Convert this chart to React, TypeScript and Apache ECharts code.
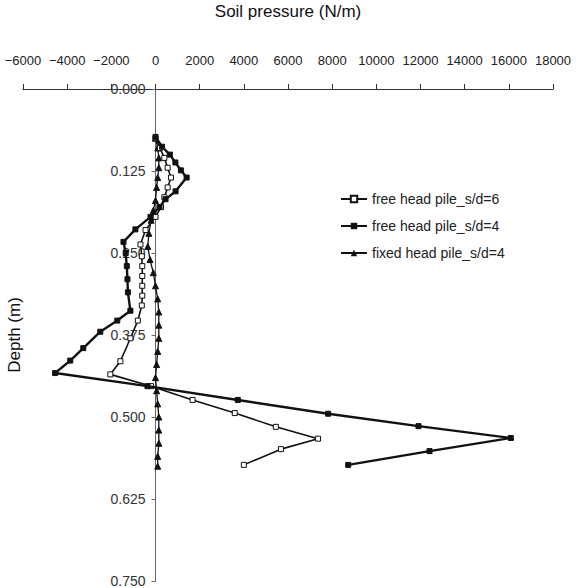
import React, { useEffect, useRef } from "react";
import * as echarts from "echarts";

const xTicks = { min: -6000, max: 18000, interval: 2000 };
const yTicks = { min: 0, max: 0.75, interval: 0.125 };

const freeS6Depth = [0.075, 0.09, 0.105, 0.12, 0.135, 0.15, 0.165, 0.18, 0.195, 0.215, 0.237, 0.255, 0.27, 0.285, 0.3, 0.315, 0.33, 0.353, 0.38, 0.415, 0.435, 0.453, 0.474, 0.494, 0.515, 0.533, 0.549, 0.573];
const freeS6Value = [0, 200, 400, 550, 700, 550, 400, 250, 0, -450, -680, -620, -600, -600, -600, -600, -620, -800, -1136, -1590, -2045, -200, 1680, 3590, 5450, 7360, 5680, 4000];

const freeS4Depth = [0.073, 0.088, 0.1, 0.112, 0.124, 0.135, 0.156, 0.168, 0.18, 0.195, 0.214, 0.233, 0.25, 0.27, 0.29, 0.31, 0.338, 0.353, 0.37, 0.395, 0.414, 0.433, 0.453, 0.474, 0.495, 0.514, 0.532, 0.552, 0.573];
const freeS4Value = [0, 300, 650, 900, 1150, 1409, 909, 455, 180, -227, -909, -1450, -1350, -1300, -1270, -1250, -1136, -1730, -2500, -3270, -3860, -4545, -364, 3727, 7818, 11909, 16090, 12409, 8727];

const fixedS4Depth = [0.075, 0.09, 0.105, 0.12, 0.135, 0.15, 0.17, 0.185, 0.2, 0.22, 0.24, 0.26, 0.28, 0.3, 0.32, 0.34, 0.36, 0.38, 0.4, 0.42, 0.44, 0.46, 0.48, 0.5, 0.52, 0.54, 0.56, 0.575];
const fixedS4Value = [0, 100, 150, 150, 100, 50, 0, -100, -200, -300, -350, -250, -100, 0, 100, 150, 150, 150, 100, 50, 0, 50, 100, 150, 150, 150, 100, 100];

const seriesNames = ["free head pile_s/d=6", "free head pile_s/d=4", "fixed head pile_s/d=4"];

const pairs = (v: number[], d: number[]) => v.map((x, i) => [x, d[i]]);

export default function App() {
  const ref = useRef<HTMLDivElement>(null);
  useEffect(() => {
    if (!ref.current) return;
    const chart = echarts.init(ref.current, null, { renderer: "svg" });
    const font = "Liberation Sans, Arial, sans-serif";
    const gridLeft = 23;
    const gridRight = 33;
    const plotW = 586 - gridLeft - gridRight;
    const zeroOffset = -((0 - xTicks.min) / (xTicks.max - xTicks.min)) * plotW;
    chart.setOption({
      animation: false,
      backgroundColor: "#ffffff",
      textStyle: { fontFamily: font },
      grid: { left: gridLeft, right: gridRight, top: 89, bottom: 7, containLabel: false, outerBoundsMode: "none" },
      legend: {
        orient: "vertical",
        left: 335,
        top: 187,
        itemWidth: 26,
        itemHeight: 8,
        itemGap: 13,
        data: seriesNames,
        textStyle: { fontSize: 14, color: "#222", fontFamily: font },
      },
      xAxis: {
        type: "value",
        position: "top",
        min: xTicks.min,
        max: xTicks.max,
        interval: xTicks.interval,
        name: "Soil pressure (N/m)",
        nameLocation: "middle",
        nameGap: 69,
        nameTextStyle: { fontSize: 17, color: "#111", fontFamily: font },
        axisLine: { onZero: false, lineStyle: { color: "#333", width: 1.2 } },
        axisTick: { inside: false, length: 5, lineStyle: { color: "#333" } },
        axisLabel: {
          margin: 22,
          fontSize: 13,
          color: "#222",
          fontFamily: font,
          showMinLabel: true,
          showMaxLabel: true,
          hideOverlap: false,
          formatter: (v: number) => (v < 0 ? "\u2212" + Math.abs(v) : String(v)),
        },
        splitLine: { show: false },
      },
      yAxis: {
        type: "value",
        inverse: true,
        position: "left",
        offset: zeroOffset,
        min: yTicks.min,
        max: yTicks.max,
        interval: yTicks.interval,
        name: "Depth (m)",
        nameLocation: "middle",
        nameGap: 133,
        nameRotate: 90,
        nameTextStyle: { fontSize: 17, color: "#111", fontFamily: font },
        axisLine: { onZero: false, lineStyle: { color: "#666", width: 1 } },
        axisTick: { inside: false, length: 4, lineStyle: { color: "#666" } },
        axisLabel: {
          margin: 10,
          fontSize: 14,
          lineHeight: 12,
          color: "#333",
          fontFamily: font,
          formatter: (v: number) => v.toFixed(3),
        },
        splitLine: { show: false },
      },
      series: [
        {
          name: seriesNames[0],
          type: "line",
          data: pairs(freeS6Value, freeS6Depth),
          symbol: "rect",
          symbolSize: 5,
          lineStyle: { color: "#111", width: 1.6 },
          itemStyle: { color: "#fff", borderColor: "#111", borderWidth: 1 },
          z: 3,
        },
        {
          name: seriesNames[1],
          type: "line",
          data: pairs(freeS4Value, freeS4Depth),
          symbol: "rect",
          symbolSize: 5,
          lineStyle: { color: "#111", width: 2.4 },
          itemStyle: { color: "#111", borderColor: "#111" },
          z: 4,
        },
        {
          name: seriesNames[2],
          type: "line",
          data: pairs(fixedS4Value, fixedS4Depth),
          symbol: "triangle",
          symbolSize: 6,
          lineStyle: { color: "#111", width: 1.3 },
          itemStyle: { color: "#111", borderColor: "#111" },
          z: 2,
        },
      ],
    });
    return () => chart.dispose();
  }, []);
  return <div ref={ref} style={{ width: 586, height: 588, position: "absolute", left: 0, top: 0 }} />;
}
